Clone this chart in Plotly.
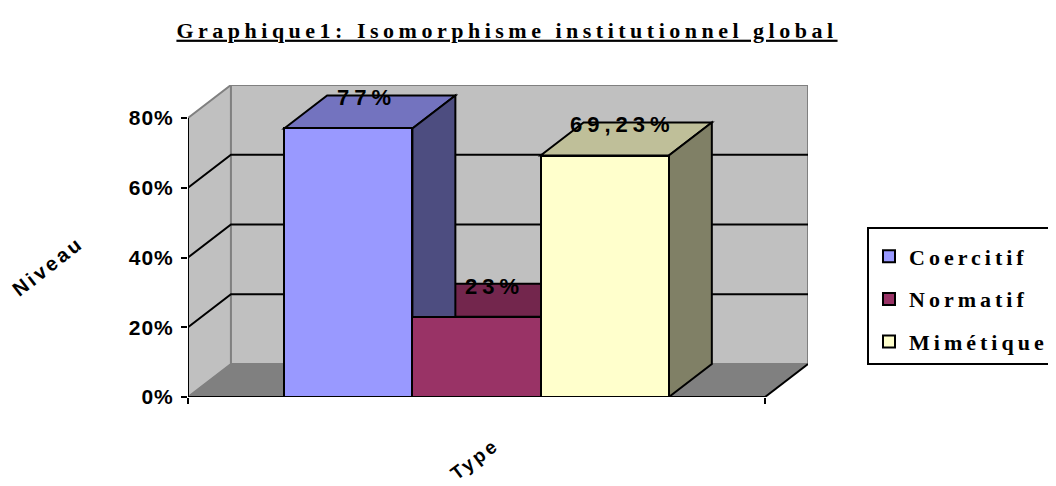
import plotly.graph_objects as go

# ---- data ----
categories = ["Coercitif", "Normatif", "Mimétique"]
values = [0.77, 0.23, 0.6923]
value_labels = ["77%", "23%", "69,23%"]
y_ticks = [0, 0.2, 0.4, 0.6, 0.8]
y_tick_labels = ["0%", "20%", "40%", "60%", "80%"]
title_text = "Graphique1: Isomorphisme institutionnel global"
x_title = "Type"
y_title = "Niveau"

# ---- style ----
front_colors = ["#9999FF", "#993366", "#FFFFCC"]
top_colors = ["#7373BF", "#73264D", "#BFBF99"]
side_colors = ["#4D4D80", "#4D1A33", "#808066"]
WALL = "#C0C0C0"
FLOOR = "#808080"
EDGE = "#808080"
DX = 0.335     # depth offset in x units
DY = 0.0946    # depth offset in y units
XL, XR = -1.25, 3.25
YMAX = 0.8
SANS = "Liberation Sans"
SERIF = "Liberation Serif"

OFF = 8  # page body margin
W, H = 1056 - OFF, 486 - OFF


def sp(t, s):
    return f"<span style='letter-spacing:{s}px;font-weight:bold'>{t}</span>"


def poly(pts):
    return "M " + " L ".join(f"{x},{y}" for x, y in pts) + " Z"


def line(pts):
    return "M " + " L ".join(f"{x},{y}" for x, y in pts)


fig = go.Figure()
for i, (c, v) in enumerate(zip(categories, values)):
    fig.add_trace(go.Bar(
        x=[i], y=[v], width=1, name=sp(c, 4), legendgroup=c,
        marker=dict(color=front_colors[i], line=dict(color="black", width=2)),
        hoverinfo="skip",
    ))

shapes = []
shapes.append(dict(type="path", path=poly([(XL, 0), (XL, YMAX), (XL + DX, YMAX + DY), (XL + DX, DY)]),
                   fillcolor=WALL, line=dict(color=EDGE, width=2), layer="below"))
shapes.append(dict(type="path", path=poly([(XL + DX, DY), (XL + DX, YMAX + DY), (XR + DX, YMAX + DY), (XR + DX, DY)]),
                   fillcolor=WALL, line=dict(color=EDGE, width=2), layer="below"))
shapes.append(dict(type="path", path=poly([(XL, 0), (XR, 0), (XR + DX, DY), (XL + DX, DY)]),
                   fillcolor=FLOOR, line=dict(color=EDGE, width=1), layer="below"))
shapes.append(dict(type="path", path=line([(XR, 0), (XR + DX, DY)]),
                   line=dict(color="black", width=2), layer="below"))
for g in y_ticks[1:-1]:
    shapes.append(dict(type="path", path=line([(XL, g), (XL + DX, g + DY), (XR + DX, g + DY)]),
                       line=dict(color="black", width=2), layer="below"))
for i, v in enumerate(values):
    shapes.append(dict(type="path",
                       path=poly([(i - 0.5, v), (i - 0.5 + DX, v + DY), (i + 0.5 + DX, v + DY), (i + 0.5, v)]),
                       fillcolor=top_colors[i], line=dict(color="black", width=2), layer="below"))
for i, v in enumerate(values):
    shapes.append(dict(type="path",
                       path=poly([(i + 0.5, 0), (i + 0.5, v), (i + 0.5 + DX, v + DY), (i + 0.5 + DX, DY)]),
                       fillcolor=side_colors[i], line=dict(color="black", width=2), layer="below"))
shapes.append(dict(type="path", path=line([(XL, 0), (XL, YMAX)]), line=dict(color="black", width=2), layer="above"))
shapes.append(dict(type="path", path=line([(XL, 0), (XR, 0)]), line=dict(color="black", width=2), layer="above"))
for s in shapes:
    s["xref"] = "x"
    s["yref"] = "y"

# plot area in page pixels: x 188..808, y 85..397
L, T = 188 - OFF, 85 - OFF
PW, PH = 620, 312
R, B = W - L - PW, H - T - PH


def px(xp):
    return (xp - OFF - L) / PW


def py(yp):
    return (H - (yp - OFF) - B) / PH


annotations = []
for i, (v, t) in enumerate(zip(values, value_labels)):
    annotations.append(dict(x=i + 0.14, y=v + 0.088, xref="x", yref="y", text=sp(t, 5),
                            showarrow=False, font=dict(family=SANS, size=22, color="black"),
                            xanchor="center", yanchor="middle"))
annotations.append(dict(x=px(48), y=py(266), xref="paper", yref="paper", text=sp(y_title, 3),
                        showarrow=False, textangle=-38, xanchor="center", yanchor="middle",
                        font=dict(family=SANS, size=20, color="black")))
annotations.append(dict(x=px(474), y=py(459), xref="paper", yref="paper", text=sp(x_title, 3),
                        showarrow=False, textangle=-37, xanchor="center", yanchor="middle",
                        font=dict(family=SANS, size=19, color="black")))

fig.update_layout(
    width=W, height=H,
    margin=dict(l=L, r=R, t=T, b=B, pad=0, autoexpand=False),
    paper_bgcolor="white", plot_bgcolor="white",
    showlegend=True,
    title=dict(text="<u>" + sp(title_text, 4.5) + "</u>", x=(507 - OFF) / W, xanchor="center",
               y=1 - (30 - OFF) / H, yanchor="middle",
               font=dict(family=SERIF, size=22, color="black", weight="bold")),
    xaxis=dict(range=[XL, XR + DX], showgrid=False, zeroline=False, showline=False,
               tickvals=[XL, XR], showticklabels=False, ticks="outside", ticklen=6,
               tickcolor="black", tickwidth=2, fixedrange=True),
    yaxis=dict(range=[0, YMAX + DY], showgrid=False, zeroline=False, showline=False,
               tickvals=y_ticks, ticktext=[sp(t, 1) for t in y_tick_labels],
               ticks="outside", ticklen=6, tickcolor="black", tickwidth=2, ticklabelstandoff=3,
               tickfont=dict(family=SANS, size=21, color="black", weight="bold"), fixedrange=True),
    legend=dict(x=px(867), y=py(227), xanchor="left", yanchor="top",
                bgcolor="white", bordercolor="black", borderwidth=2,
                font=dict(family=SERIF, size=22, color="black", weight="bold"),
                title=dict(text=" ", font=dict(size=5)),
                tracegroupgap=11, traceorder="grouped"),
    shapes=shapes, annotations=annotations, bargap=0,
)

fig.write_html("out.html")
